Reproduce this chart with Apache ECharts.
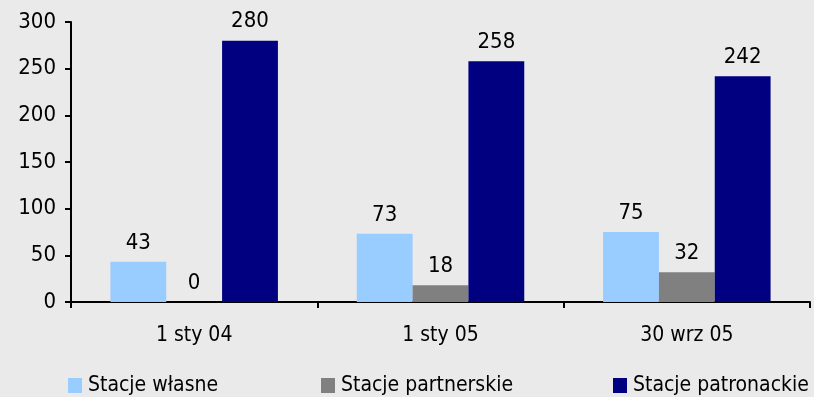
<!DOCTYPE html>
<html>
<head>
<meta charset="utf-8">
<script src="https://cdn.jsdelivr.net/npm/echarts@6/dist/echarts.min.js"></script>
<style>
  html, body { margin: 0; padding: 0; background: #eaeaea; }
  #chart { width: 814px; height: 397px; }
</style>
</head>
<body>
<div id="chart"></div>
<script>
// Station counts at three reporting dates
const categories = ['1 sty 04', '1 sty 05', '30 wrz 05'];
const seriesNames = ['Stacje własne', 'Stacje partnerskie', 'Stacje patronackie'];
const ownStations = [43, 73, 75];
const partnerStations = [0, 18, 32];
const patronStations = [280, 258, 242];
const yTicks = { min: 0, max: 300, interval: 50 };

const FONT = '"DejaVu Sans Condensed", "DejaVu Sans", Tahoma, sans-serif';
const FONT_SIZE = 21;
const colors = ['#99ccff', '#808080', '#000080'];
const values = [ownStations, partnerStations, patronStations];
const legendLeft = [68, 321, 613];

const chart = echarts.init(document.getElementById('chart'), null, { renderer: 'canvas' });

const series = seriesNames.map((name, i) => ({
  name: name,
  type: 'bar',
  data: values[i],
  barGap: '0%',
  barCategoryGap: '32%',
  itemStyle: { color: colors[i] },
  label: {
    show: true,
    position: 'top',
    distance: 8,
    color: '#000',
    fontFamily: FONT,
    fontSize: 22
  }
}));

const legends = seriesNames.map((name, i) => ({
  data: [name],
  left: legendLeft[i],
  top: 375,
  itemWidth: 14,
  itemHeight: 15,
  itemGap: 0,
  padding: 0,
  textStyle: { fontFamily: FONT, fontSize: FONT_SIZE, color: '#000', padding: [0, 0, 0, 1] },
  icon: 'rect'
}));

chart.setOption({
  backgroundColor: '#eaeaea',
  animation: false,
  grid: { left: 71, right: 4, top: 22, bottom: 95, containLabel: false },
  legend: legends,
  xAxis: {
    type: 'category',
    data: categories,
    axisLine: { lineStyle: { color: '#000', width: 2 } },
    axisTick: { show: true, length: 6, lineStyle: { color: '#000', width: 2 } },
    axisLabel: { color: '#000', fontFamily: FONT, fontSize: FONT_SIZE, margin: 23 }
  },
  yAxis: {
    type: 'value',
    min: yTicks.min,
    max: yTicks.max,
    interval: yTicks.interval,
    axisLine: { show: true, lineStyle: { color: '#000', width: 2 } },
    axisTick: { show: true, length: 6, lineStyle: { color: '#000', width: 2 } },
    axisLabel: { color: '#000', fontFamily: FONT, fontSize: 22, margin: 15 },
    splitLine: { show: false }
  },
  series: series
});
</script>
</body>
</html>
